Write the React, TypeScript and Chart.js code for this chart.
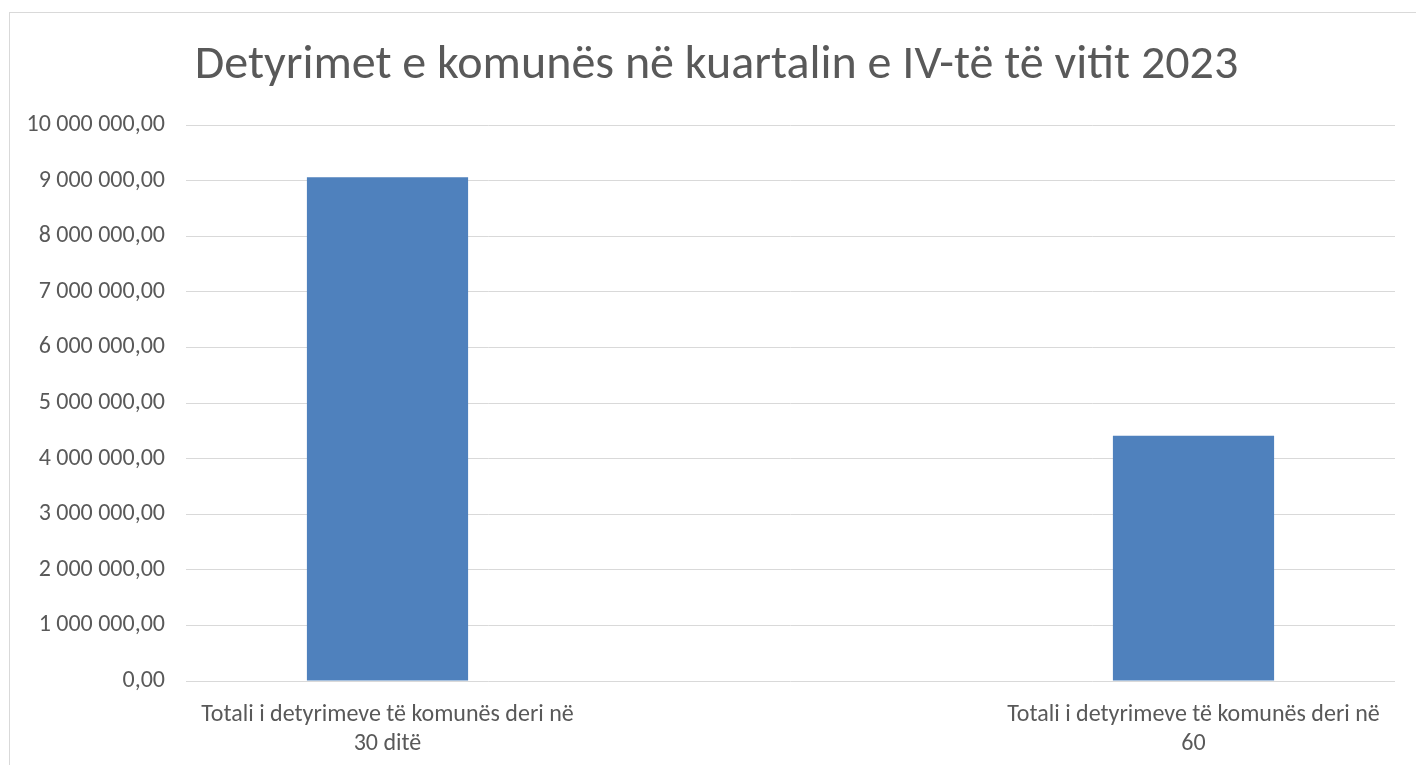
import React, { useEffect, useRef } from "react";
import { Chart, registerables } from "chart.js";

Chart.register(...registerables);

const titleText = "Detyrimet e komunës në kuartalin e IV-të të vitit 2023";
const categories: (string | string[])[] = [
  ["Totali i detyrimeve të komunës deri në", "30 ditë"],
  "",
  ["Totali i detyrimeve të komunës deri në", "60"],
];
const values: (number | null)[] = [9060000, null, 4413000];
const yMin = 0;
const yMax = 10000000;
const yStep = 1000000;

const FONT = "Carlito, Lato, 'Open Sans', sans-serif";
const TEXT = "#595959";

function formatNum(v: number): string {
  const fixed = Math.abs(v).toFixed(2);
  const [intPart, dec] = fixed.split(".");
  const withSpaces = intPart.replace(/\B(?=(\d{3})+(?!\d))/g, " ");
  return (v < 0 ? "-" : "") + withSpaces + "," + dec;
}

const framePlugin = {
  id: "frame",
  beforeDraw(chart: any) {
    const ctx = chart.ctx;
    ctx.save();
    ctx.fillStyle = "#ffffff";
    ctx.fillRect(0, 0, chart.width, chart.height);
    ctx.strokeStyle = "#d9d9d9";
    ctx.lineWidth = 1;
    ctx.strokeRect(9.5, 12.5, chart.width + 50, chart.height + 50);
    ctx.restore();
  },
  afterDraw(chart: any) {
    const ctx = chart.ctx;
    ctx.save();
    ctx.fillStyle = TEXT;
    ctx.font = `48px ${FONT}`;
    ctx.textAlign = "center";
    ctx.textBaseline = "middle";
    ctx.fillText(titleText, 716.5, 66);
    ctx.restore();
  },
};

export default function App() {
  const ref = useRef<HTMLCanvasElement | null>(null);
  useEffect(() => {
    if (!ref.current) return;
    const chart = new Chart(ref.current, {
      type: "bar",
      data: {
        labels: categories,
        datasets: [
          {
            data: values,
            backgroundColor: "#4F81BD",
            barPercentage: 0.4,
            categoryPercentage: 1,
          },
        ],
      },
      options: {
        animation: false,
        responsive: false,
        maintainAspectRatio: false,
        layout: { padding: { left: 10, right: 21, top: 125, bottom: 0 } },
        plugins: {
          legend: { display: false },
          tooltip: { enabled: false },
          title: { display: false },
        },
        scales: {
          x: {
            grid: { display: false, drawTicks: false },
            border: { display: false },
            ticks: {
              color: TEXT,
              font: { family: FONT, size: 24 },
              padding: 20,
              maxRotation: 0,
              autoSkip: false,
            },
            afterFit(scale: any) {
              scale.height = 84;
            },
          },
          y: {
            min: yMin,
            max: yMax,
            grid: { color: "#d9d9d9", lineWidth: 1, drawTicks: false },
            border: { display: false },
            ticks: {
              stepSize: yStep,
              color: TEXT,
              font: { family: FONT, size: 24 },
              padding: 21,
              callback: (v: any) => formatNum(Number(v)),
            },
            afterFit(scale: any) {
              scale.width = 176;
            },
          },
        },
      },
      plugins: [framePlugin],
    });
    return () => chart.destroy();
  }, []);
  return (
    <div style={{ position: "absolute", left: 0, top: 0, width: 1416, height: 765 }}>
      <canvas ref={ref} width={1416} height={765} style={{ display: "block" }} />
    </div>
  );
}
